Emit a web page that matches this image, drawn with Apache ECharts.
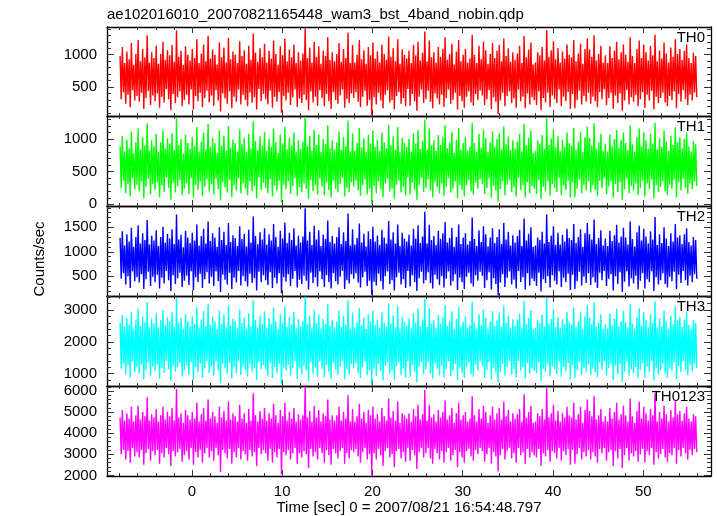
<!DOCTYPE html>
<html>
<head>
<meta charset="utf-8">
<script src="https://cdn.jsdelivr.net/npm/echarts@6/dist/echarts.min.js"></script>
<style>html,body{margin:0;padding:0;background:#fff}#c{width:717px;height:516px}</style>
</head>
<body>
<div id="c"></div>
<script>
const titleText = "ae102016010_20070821165448_wam3_bst_4band_nobin.qdp";
const xLabelText = "Time [sec] 0 = 2007/08/21 16:54:48.797";
const yLabelText = "Counts/sec";
const panelNames = ["TH0", "TH1", "TH2", "TH3", "TH0123"];
const panelColors = ["#ff0000", "#00ff00", "#0000ff", "#00ffff", "#ff00ff"];

// time bins
const tStart = -7.95;
const tStep = 0.125;

// x axis
const xMin = -9.4, xMax = 57.5;
const xMajorTicks = [0, 10, 20, 30, 40, 50];
const xMinorTicks = [-8,-6,-4,-2,2,4,6,8,12,14,16,18,22,24,26,28,32,34,36,38,42,44,46,48,52,54,56];

// y axes
const yMins = [50, -26, 96, 610, 1970];
const yMaxs = [1430, 1353, 1936, 3444, 6240];
const yMajorTicks = [[500, 1000], [0, 500, 1000], [500, 1000, 1500], [1000, 2000, 3000], [2000, 3000, 4000, 5000, 6000]];
const yMinorTicks = [
  [100,200,300,400,600,700,800,900,1100,1200,1300,1400],
  [100,200,300,400,600,700,800,900,1100,1200,1300],
  [100,200,300,400,600,700,800,900,1100,1200,1300,1400,1600,1700,1800,1900],
  [800,1200,1400,1600,1800,2200,2400,2600,2800,3200,3400],
  [2200,2400,2600,2800,3200,3400,3600,3800,4200,4400,4600,4800,5200,5400,5600,5800,6200]
];

const th0 = [
980,310,1120,420,870,240,1050,380,930,190,1180,450,840,290,1010,360,
1230,270,900,410,1090,160,960,330,1300,440,880,220,1040,370,950,280,
1140,400,860,180,1010,350,1200,260,920,470,1070,310,990,140,1150,390,
890,250,1380,340,970,430,1060,200,840,300,1130,380,1000,230,910,460,
1090,150,950,360,1240,280,870,410,1020,190,1160,330,900,440,1290,260,
940,370,1080,210,1000,450,850,290,1190,120,960,400,1110,320,880,240,
1260,430,930,170,1050,350,1000,270,870,460,1210,230,980,380,1070,300,
860,200,1140,410,920,260,1330,340,1030,150,890,470,1100,280,960,390,
1170,310,880,230,1060,440,940,180,1220,350,1010,270,850,420,1130,100,
990,360,1250,290,900,410,1080,220,960,340,1160,460,870,190,1040,320,
910,250,1020,380,1410,300,950,140,1110,430,880,260,1200,350,970,210,
1130,450,860,330,1060,200,980,390,1270,280,920,160,1040,420,900,300,
1010,240,1180,370,890,460,1090,180,950,310,1340,250,870,400,1150,330,
880,420,1000,270,1230,190,930,350,1070,440,860,210,1120,300,990,60,
1190,340,940,230,1050,410,880,290,1160,170,1010,380,920,450,1280,260,
970,300,1100,150,900,360,1240,420,860,240,1080,330,1000,200,940,470,
1060,210,870,390,1150,280,990,130,1200,350,910,460,1030,250,1360,310,
900,440,1220,270,960,170,1040,400,880,320,1120,230,970,380,1090,190,
1270,330,920,460,1010,240,1170,300,850,410,1050,150,1230,360,900,280,
1000,180,1090,350,880,430,940,260,1310,210,1000,390,870,300,1140,440,
930,370,1200,220,1070,310,860,450,1010,160,1180,340,950,270,1060,80,
1150,290,900,410,1250,200,980,360,1100,430,890,250,1040,320,920,180,
1020,460,1140,280,870,350,1290,170,960,400,1080,230,1190,340,850,300,
880,220,1040,430,990,140,1120,330,910,260,1380,410,970,190,1070,370,
1210,310,930,250,1100,460,880,200,1050,350,940,280,1160,420,1000,160,
960,390,1230,170,900,300,1020,440,1170,230,860,360,1090,270,1250,410,
1080,240,970,350,1300,280,910,190,1010,420,1140,310,880,460,990,220,
870,330,1130,410,950,160,1060,370,1200,250,930,400,1040,130,1160,290,
1000,450,890,230,1270,340,980,270,870,380,1090,200,1220,310,950,420,
1160,180,1040,380,910,290,1140,440,990,150,1310,350,900,250,1070,330,
940,410,1190,260,1020,200,880,360,1110,300,970,430,1240,170,1010,390,
1090,270,920,450,1060,310,1160,220,950,380,870,290,1030,410,980,340];

const th1 = [
890,250,1050,360,810,170,990,310,860,120,1120,400,780,230,950,300,
1160,200,840,350,1030,90,900,270,1240,390,820,150,980,310,890,220,
1080,340,800,110,950,290,1140,190,860,410,1010,250,930,70,1090,330,
830,180,1320,280,910,370,1000,140,780,240,1070,320,940,160,850,400,
1030,100,890,300,1180,220,810,350,960,130,1100,270,840,380,1230,200,
880,310,1020,150,940,390,790,230,1130,60,900,340,1050,260,820,180,
1200,370,870,110,990,290,940,210,810,400,1150,170,920,320,1010,240,
800,140,1080,350,860,200,1270,280,970,90,830,410,1040,220,900,330,
1110,250,820,170,1000,380,880,120,1160,290,950,210,790,360,1070,30,
930,300,1190,230,840,350,1020,160,900,280,1100,400,810,130,980,260,
850,190,960,320,1340,240,890,80,1050,370,820,200,1140,290,910,150,
1070,390,800,270,1000,140,920,330,1210,220,860,100,980,360,840,240,
950,180,1120,310,830,400,1030,120,890,250,1280,190,810,340,1090,270,
820,360,940,210,1170,130,870,290,1010,380,800,150,1060,240,930,0,
1130,280,880,170,990,350,820,230,1100,110,950,320,860,390,1220,200,
910,240,1040,90,840,300,1180,360,800,180,1020,270,940,140,880,410,
1000,150,810,330,1090,220,930,70,1140,290,850,400,970,190,1300,250,
840,380,1160,210,900,110,980,340,820,260,1060,170,910,320,1030,130,
1210,270,860,400,950,180,1110,240,790,350,990,90,1170,300,840,220,
940,120,1030,290,820,370,880,200,1250,150,940,330,810,240,1080,380,
870,310,1140,160,1010,250,800,390,950,100,1120,280,890,210,1000,40,
1090,230,840,350,1190,140,920,300,1040,370,830,190,980,260,860,120,
960,400,1080,220,810,290,1230,110,900,340,1020,170,1130,280,790,240,
820,160,980,370,930,80,1060,270,850,200,1320,350,910,130,1010,310,
1150,250,870,190,1040,400,820,140,990,290,880,220,1100,360,940,100,
900,330,1170,110,840,240,960,380,1110,170,800,300,1030,210,1190,350,
1020,180,910,290,1240,220,850,130,950,360,1080,250,820,400,930,160,
810,270,1070,350,890,100,1000,310,1140,190,870,340,980,70,1100,230,
940,390,830,170,1210,280,920,210,810,320,1030,140,1160,250,890,360,
1100,120,980,320,850,230,1080,380,930,90,1250,290,840,190,1010,270,
880,350,1130,200,960,140,820,300,1050,240,910,370,1180,110,950,330,
1030,210,860,390,1000,250,1100,160,890,320,810,230,970,350,920,280];

const th2 = [
1280,450,1420,560,1130,330,1360,500,1210,260,1490,600,1100,400,1300,480,
1540,370,1170,540,1380,240,1240,440,1650,590,1150,300,1330,490,1230,380,
1440,530,1120,250,1300,470,1510,350,1190,610,1370,420,1270,200,1460,520,
1160,340,1760,460,1250,570,1350,280,1090,410,1430,510,1290,320,1180,600,
1390,220,1230,480,1560,380,1130,550,1320,260,1470,440,1170,580,1620,350,
1220,490,1380,300,1290,600,1100,400,1500,180,1240,530,1410,430,1140,330,
1590,570,1200,240,1340,470,1280,370,1120,610,1520,310,1260,500,1370,400,
1110,290,1450,550,1190,360,1720,460,1320,210,1160,590,1400,380,1250,520,
1480,420,1150,320,1360,580,1230,260,1570,470,1300,350,1100,560,1430,150,
1270,480,1600,390,1180,540,1390,300,1240,450,1480,610,1130,270,1330,430,
1190,340,1310,510,1890,410,1230,230,1410,570,1140,360,1530,480,1250,290,
1440,600,1120,440,1350,280,1260,520,1640,380,1200,250,1320,560,1170,400,
1300,330,1500,490,1160,610,1400,240,1220,420,1780,350,1130,540,1460,450,
1150,560,1280,370,1580,270,1190,480,1370,590,1110,300,1420,410,1260,120,
1510,390,1210,310,1330,550,1140,400,1450,230,1290,500,1170,600,1630,340,
1250,420,1400,210,1170,480,1560,570,1120,330,1390,440,1270,260,1210,610,
1350,290,1130,520,1470,380,1270,200,1540,460,1180,590,1310,350,1820,420,
1170,580,1550,360,1240,250,1320,530,1140,440,1430,320,1260,500,1380,270,
1610,450,1190,600,1280,310,1490,400,1100,540,1300,220,1560,470,1160,380,
1290,240,1380,490,1150,570,1220,350,1700,290,1260,520,1120,410,1440,590,
1200,510,1520,260,1360,420,1110,580,1290,230,1480,460,1180,340,1300,110,
1460,370,1160,540,1590,280,1250,470,1410,600,1130,330,1340,430,1190,250,
1320,610,1450,380,1120,480,1680,230,1230,560,1370,310,1500,450,1100,400,
1130,300,1290,570,1240,190,1410,440,1170,360,1760,500,1200,270,1330,520,
1520,410,1140,330,1390,600,1150,280,1350,470,1210,380,1470,550,1280,220,
1240,530,1570,240,1180,400,1300,590,1460,310,1100,490,1380,360,1590,560,
1360,320,1250,480,1660,370,1160,260,1280,570,1440,420,1130,610,1270,300,
1120,450,1430,540,1220,210,1340,500,1550,340,1190,580,1310,180,1490,390,
1290,600,1150,290,1620,460,1260,350,1110,510,1400,230,1530,410,1230,560,
1470,250,1310,440,1170,380,1420,600,1250,200,1710,480,1140,330,1360,420,
1180,560,1500,340,1270,270,1120,490,1380,400,1210,590,1570,240,1290,530,
1340,360,1160,610,1360,420,1480,310,1200,510,1130,380,1300,540,1240,450];

const th3 = [
2600,1150,2850,1300,2480,980,2750,1250,2550,880,2950,1380,2420,1050,2700,1200,
3050,1000,2500,1280,2800,820,2620,1120,3250,1350,2460,930,2720,1220,2580,1080,
2900,1270,2450,850,2680,1180,3000,1020,2530,1400,2780,1130,2640,780,2930,1240,
2470,1060,3380,1200,2610,1330,2760,900,2420,1100,2880,1260,2660,960,2500,1370,
2800,800,2560,1210,3100,1040,2440,1310,2700,870,2970,1160,2490,1390,3200,1020,
2540,1230,2790,940,2640,1380,2410,1100,2990,700,2570,1300,2860,1170,2460,990,
3150,1340,2510,850,2730,1200,2660,1010,2430,1390,3020,960,2590,1250,2770,1110,
2420,920,2900,1290,2480,1060,3300,1180,2690,790,2450,1370,2820,1140,2560,1260,
2960,1130,2440,910,2750,1330,2560,860,3080,1210,2650,1020,2410,1300,2880,680,
2610,1190,3120,1090,2470,1280,2780,940,2550,1170,2940,1400,2430,830,2710,1150,
2500,980,2660,1240,3420,1110,2570,770,2820,1350,2440,1000,3010,1190,2590,900,
2870,1380,2430,1150,2720,880,2580,1270,3180,1070,2510,840,2690,1330,2460,1120,
2640,960,2980,1220,2470,1390,2810,820,2540,1140,3310,970,2420,1300,2920,1180,
2450,1320,2620,1010,3060,860,2530,1200,2760,1380,2410,950,2870,1110,2640,650,
2990,1160,2540,930,2700,1290,2440,1080,2930,780,2610,1250,2480,1370,3200,1000,
2580,1100,2840,800,2460,1230,3110,1340,2420,960,2790,1170,2630,880,2520,1400,
2730,900,2430,1260,2910,1060,2600,730,3040,1210,2490,1360,2700,990,3360,1130,
2470,1370,3070,1000,2570,840,2680,1310,2440,1150,2850,950,2580,1240,2790,870,
3160,1140,2510,1390,2650,920,2960,1080,2410,1300,2720,790,3090,1190,2480,1020,
2630,860,2790,1210,2440,1340,2530,990,3270,900,2620,1280,2420,1110,2880,1380,
2520,1250,3020,870,2750,1120,2420,1370,2640,820,2970,1170,2500,1030,2680,720,
2920,1060,2480,1300,3140,930,2600,1220,2830,1390,2430,970,2710,1140,2510,880,
2700,1400,2890,1090,2430,1200,3290,840,2560,1330,2760,1000,3000,1160,2410,1080,
2440,1010,2680,1350,2590,760,2850,1150,2480,1060,3380,1290,2570,910,2720,1230,
3030,1130,2470,990,2780,1380,2430,900,2710,1200,2560,1070,2930,1330,2620,820,
2550,1270,3080,860,2460,1100,2640,1370,2940,960,2410,1180,2800,1040,3150,1290,
2760,950,2580,1160,3250,1040,2480,890,2600,1340,2870,1120,2420,1390,2570,930,
2430,1180,2900,1300,2520,800,2730,1250,3050,970,2490,1310,2660,740,2980,1060,
2620,1380,2450,920,3180,1140,2580,1010,2420,1210,2780,860,3060,1120,2510,1330,
2930,880,2690,1220,2460,1050,2870,1390,2610,790,3280,1170,2440,960,2740,1110,
2500,1310,2990,1000,2640,870,2420,1160,2820,1090,2560,1350,3110,830,2680,1240,
2790,1040,2470,1390,2700,1130,2950,940,2530,1260,2420,1060,2680,1300,2590,1170];

const th0123 = [
4750,3000,5100,3200,4600,2750,4950,3150,4700,2600,5250,3300,4550,2900,4850,3100,
5300,2850,4650,3200,5000,2500,4800,3050,5700,3250,4600,2700,4900,3150,4750,2950,
5150,3200,4550,2550,4850,3050,5250,2850,4650,3300,5000,3000,4800,2450,5200,3150,
4600,2900,6100,3100,4750,3250,4950,2650,4500,2950,5100,3150,4850,2750,4650,3300,
5000,2500,4700,3100,5450,2850,4550,3200,4900,2600,5200,3050,4600,3300,5600,2850,
4700,3150,5000,2700,4800,3300,4500,2950,5250,2150,4750,3200,5050,3050,4600,2800,
5500,3250,4650,2550,4950,3100,4800,2850,4550,3300,5350,2750,4700,3150,4950,3000,
4500,2700,5150,3200,4600,2900,5900,3100,4850,2450,4550,3300,5050,3000,4700,3200,
5200,3050,4600,2700,4950,3250,4700,2600,5400,3100,4850,2850,4500,3250,5100,2050,
4800,3100,5450,2950,4600,3200,5000,2750,4700,3050,5200,3300,4550,2550,4900,3050,
4650,2850,4850,3150,6200,3000,4750,2350,5050,3250,4550,2900,5300,3100,4750,2750,
5100,3300,4550,3050,4950,2600,4800,3200,5600,2950,4650,2500,4850,3250,4600,3050,
4850,2800,5250,3150,4600,3300,5000,2550,4700,3050,5800,2800,4550,3200,5150,3100,
4550,3250,4800,2900,5400,2600,4700,3100,5000,3300,4500,2750,5100,3000,4850,2000,
5250,3050,4700,2750,4900,3250,4550,2950,5200,2450,4800,3150,4600,3300,5650,2850,
4750,3000,5050,2400,4600,3150,5500,3250,4500,2800,4950,3100,4850,2650,4700,3300,
4950,2700,4550,3200,5150,2950,4800,2300,5350,3100,4650,3300,4900,2850,6050,3050,
4600,3300,5350,2800,4750,2550,4900,3250,4550,3050,5100,2750,4750,3150,5000,2600,
5550,3100,4650,3300,4850,2700,5200,2950,4500,3200,4950,2400,5450,3100,4650,2850,
4850,2600,5000,3150,4550,3250,4700,2900,5750,2700,4850,3200,4550,3000,5150,3300,
4700,3150,5300,2650,5000,3000,4500,3300,4850,2550,5250,3100,4650,2900,4950,2200,
5200,2950,4650,3250,5500,2750,4800,3150,5100,3300,4550,2800,4950,3050,4700,2600,
4900,3300,5150,2950,4550,3100,5850,2550,4750,3250,5000,2850,5300,3100,4500,2950,
4550,2850,4950,3250,4800,2450,5150,3050,4650,2900,6150,3200,4750,2650,4950,3150,
5350,3050,4600,2800,5050,3300,4550,2700,4950,3150,4750,2950,5250,3250,4850,2500,
4750,3200,5450,2550,4650,3000,4900,3300,5250,2750,4500,3100,5100,2900,5600,3200,
5050,2750,4800,3100,5750,2900,4650,2600,4850,3250,5150,3050,4550,3300,4800,2700,
4550,3100,5200,3200,4700,2450,5000,3150,5450,2800,4650,3250,4900,2350,5300,2950,
4850,3300,4550,2700,5650,3050,4800,2900,4500,3150,5050,2650,5500,3000,4700,3250,
5250,2600,4950,3150,4600,2950,5150,3300,4850,2500,5900,3100,4550,2800,5000,3000,
4700,3250,5300,2850,4900,2650,4550,3050,5100,2950,4750,3300,5550,2550,4900,3200,
5050,2900,4600,3300,4950,3050,5250,2750,4700,3200,4550,2950,4900,3250,4800,3100];

const seriesValues = [th0, th1, th2, th3, th0123];

// ---- layout ----
const FONT = "Liberation Sans";
const gridLeft = 107, gridRight = 6;
const tops = [27, 116, 206, 296, 386];
const bottoms = [116, 206, 296, 386, 476];

const grids = [], xAxes = [], yAxes = [], series = [], graphics = [];
const axisLineStyle = { color: "#000", width: 1.3 };
const tickStyle = { color: "#333", width: 1 };
const plainFmt = v => String(v);

for (let i = 0; i < 5; i++) {
  grids.push({ left: gridLeft, right: gridRight, top: tops[i], height: bottoms[i] - tops[i], containLabel: false });
  const isBottom = i === 4;
  const xDefs = [
    { pos: "bottom", ticks: xMajorTicks, len: 6, line: true, labels: isBottom },
    { pos: "bottom", ticks: xMinorTicks, len: 3, line: false, labels: false },
    { pos: "top", ticks: xMajorTicks, len: 6, line: true, labels: false },
    { pos: "top", ticks: xMinorTicks, len: 3, line: false, labels: false }
  ];
  xDefs.forEach(d => {
    xAxes.push({
      type: "value", gridIndex: i, position: d.pos, min: xMin, max: xMax,
      axisLine: { show: d.line, onZero: false, lineStyle: axisLineStyle },
      axisTick: { show: true, inside: true, length: d.len, customValues: d.ticks, lineStyle: tickStyle },
      axisLabel: { show: d.labels, customValues: d.ticks, formatter: plainFmt, margin: 8, color: "#000", fontSize: 15, fontFamily: FONT },
      splitLine: { show: false }
    });
  });
  const yDefs = [
    { pos: "left", ticks: yMajorTicks[i], len: 7, line: true, labels: true },
    { pos: "left", ticks: yMinorTicks[i], len: 4, line: false, labels: false },
    { pos: "right", ticks: yMajorTicks[i], len: 7, line: true, labels: false },
    { pos: "right", ticks: yMinorTicks[i], len: 4, line: false, labels: false }
  ];
  yDefs.forEach(d => {
    yAxes.push({
      type: "value", gridIndex: i, position: d.pos, min: yMins[i], max: yMaxs[i],
      axisLine: { show: d.line, onZero: false, lineStyle: axisLineStyle },
      axisTick: { show: true, inside: true, length: d.len, customValues: d.ticks, lineStyle: tickStyle },
      axisLabel: { show: d.labels, customValues: d.ticks, formatter: plainFmt, margin: 10, color: "#000", fontSize: 15, fontFamily: FONT },
      splitLine: { show: false }
    });
  });
  const vals = seriesValues[i];
  series.push({
    type: "line", xAxisIndex: 4 * i, yAxisIndex: 4 * i,
    data: vals.map((v, k) => [tStart + k * tStep, v]),
    showSymbol: false, symbol: "none", sampling: null, clip: true,
    lineStyle: { color: panelColors[i], width: 1.4 },
    itemStyle: { color: panelColors[i] },
    z: 1
  });
  graphics.push({
    type: "text", right: 12, top: tops[i] + 3, z: 100,
    style: { text: panelNames[i], fill: "#000", font: "15px " + FONT }
  });
}

graphics.push({
  type: "text", x: 40, y: 259, rotation: Math.PI / 2,
  style: { text: yLabelText, fill: "#000", font: "15px " + FONT, textAlign: "center", textVerticalAlign: "middle" }
});
graphics.push({
  type: "text", x: 409, y: 508,
  style: { text: xLabelText, fill: "#000", font: "15px " + FONT, textAlign: "center", textVerticalAlign: "middle" }
});
graphics.push({
  type: "text", x: 107, y: 15,
  style: { text: titleText, fill: "#000", font: "15px " + FONT, textAlign: "left", textVerticalAlign: "middle" }
});

const chart = echarts.init(document.getElementById("c"), null, { renderer: "canvas" });
chart.setOption({
  animation: false,
  backgroundColor: "#fff",
  grid: grids,
  xAxis: xAxes,
  yAxis: yAxes,
  series: series,
  graphic: graphics
});
</script>
</body>
</html>
